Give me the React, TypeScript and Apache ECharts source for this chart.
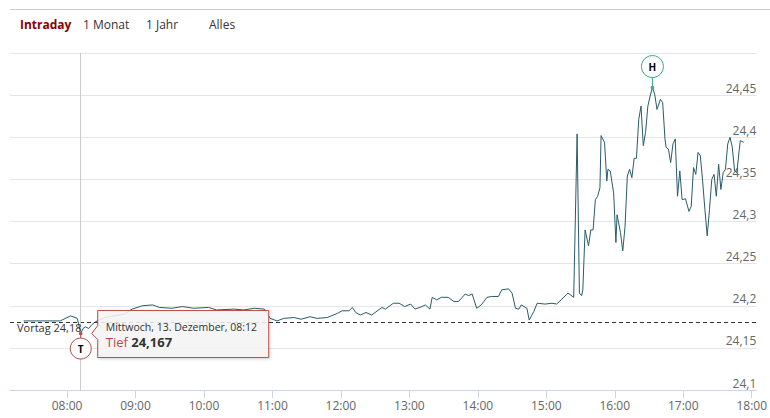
import React, { useEffect, useRef } from "react";
import * as echarts from "echarts";

// ---- data ----
const times0800 = ["07:22", "07:54", "08:03", "08:09", "08:12", "08:14", "08:16", "08:19", "08:22", "08:25", "08:33", "08:41", "08:50", "08:57"];
const prices0800 = [24.182, 24.182, 24.188, 24.185, 24.167, 24.173, 24.175, 24.173, 24.178, 24.181, 24.186, 24.188, 24.19, 24.196];
const times0900 = ["09:06", "09:15", "09:21", "09:32", "09:41", "09:51", "10:04", "10:11", "10:26", "10:35", "10:44", "10:53"];
const prices0900 = [24.2, 24.201, 24.198, 24.197, 24.199, 24.197, 24.198, 24.195, 24.196, 24.195, 24.197, 24.196];
const times1100 = ["10:58", "11:04", "11:10", "11:19", "11:25", "11:33", "11:39", "11:48", "11:57"];
const prices1100 = [24.185, 24.182, 24.185, 24.186, 24.184, 24.187, 24.185, 24.186, 24.191];
const times1200 = ["12:01", "12:07", "12:10", "12:13", "12:17", "12:22", "12:27", "12:36", "12:39", "12:46", "12:51", "12:56"];
const prices1200 = [24.194, 24.194, 24.198, 24.192, 24.189, 24.192, 24.189, 24.198, 24.196, 24.203, 24.203, 24.199];
const times1300 = ["13:01", "13:05", "13:11", "13:14", "13:18", "13:20", "13:24", "13:28", "13:34", "13:39", "13:43", "13:49", "13:52", "13:55", "13:59"];
const prices1300 = [24.202, 24.196, 24.199, 24.201, 24.196, 24.21, 24.207, 24.21, 24.21, 24.205, 24.205, 24.214, 24.212, 24.214, 24.197];
const times1400 = ["14:03", "14:08", "14:12", "14:18", "14:21", "14:27", "14:30", "14:33", "14:36", "14:38", "14:43", "14:45", "14:49", "14:52", "14:59"];
const prices1400 = [24.201, 24.21, 24.211, 24.211, 24.219, 24.22, 24.215, 24.197, 24.196, 24.201, 24.197, 24.183, 24.193, 24.203, 24.202];
const times1500 = ["15:05", "15:09", "15:13", "15:19", "15:24", "15:27", "15:29", "15:31", "15:32", "15:34", "15:37", "15:39", "15:41", "15:43", "15:45", "15:47", "15:48", "15:51", "15:53", "15:54", "15:56", "15:59"];
const prices1500 = [24.203, 24.202, 24.207, 24.215, 24.21, 24.404, 24.215, 24.212, 24.219, 24.29, 24.271, 24.29, 24.29, 24.326, 24.33, 24.34, 24.402, 24.394, 24.348, 24.362, 24.36, 24.334];
const times1600 = ["16:01", "16:02", "16:05", "16:07", "16:09", "16:11", "16:13", "16:15", "16:17", "16:19", "16:21", "16:23", "16:25", "16:27", "16:29", "16:31", "16:33", "16:35", "16:37", "16:40", "16:42", "16:44", "16:45", "16:47", "16:49", "16:51", "16:53", "16:55", "16:57", "16:59"];
const prices1600 = [24.275, 24.308, 24.287, 24.265, 24.294, 24.354, 24.362, 24.352, 24.375, 24.375, 24.421, 24.437, 24.39, 24.406, 24.437, 24.449, 24.459, 24.451, 24.433, 24.445, 24.441, 24.398, 24.388, 24.386, 24.37, 24.392, 24.398, 24.33, 24.36, 24.326];
const times1700 = ["17:02", "17:05", "17:07", "17:09", "17:11", "17:13", "17:15", "17:17", "17:19", "17:21", "17:23", "17:25", "17:27", "17:29", "17:31", "17:33", "17:35", "17:37", "17:39", "17:41", "17:43", "17:45", "17:47", "17:49", "17:50", "17:53"];
const prices1700 = [24.327, 24.312, 24.318, 24.364, 24.356, 24.382, 24.378, 24.348, 24.314, 24.283, 24.314, 24.35, 24.356, 24.33, 24.368, 24.338, 24.358, 24.362, 24.392, 24.4, 24.388, 24.36, 24.358, 24.384, 24.396, 24.394];

const times = [...times0800, ...times0900, ...times1100, ...times1200, ...times1300, ...times1400, ...times1500, ...times1600, ...times1700];
const prices = [...prices0800, ...prices0900, ...prices1100, ...prices1200, ...prices1300, ...prices1400, ...prices1500, ...prices1600, ...prices1700];

const xTickLabels = ["08:00", "09:00", "10:00", "11:00", "12:00", "13:00", "14:00", "15:00", "16:00", "17:00", "18:00"];
const xStart = "07:10";
const xEnd = "18:04";
const yMin = 24.1;
const yMax = 24.5;
const yStep = 0.05;

const previousClose = 24.181;
const previousCloseLabel = "Vortag 24,18";
const lowTime = "08:12";
const lowValue = 24.167;
const highTime = "16:33";
const highValue = 24.459;
const tooltipDate = "Mittwoch, 13. Dezember, 08:12";
const tooltipName = "Tief";
const rangeButtons = ["Intraday", "1 Monat", "1 Jahr", "Alles"];

// ---- layout / style ----
const buttonX = [20, 83, 146, 209];
const FONT = '"Open Sans", "DejaVu Sans", sans-serif';
const RED = "#b94a48";
const GREEN = "#3aa982";
const LINE = "#2a5b68";

const toMin = (s: string) => {
  const [h, m] = s.split(":").map(Number);
  return h * 60 + m;
};
const pad = (n: number) => (n < 10 ? "0" + n : "" + n);
const fmtTime = (v: number) => pad(Math.floor(v / 60)) + ":" + pad(Math.round(v % 60));
const fmtNum = (v: number) => String(+v.toFixed(3)).replace(".", ",");

export default function App() {
  const ref = useRef<HTMLDivElement>(null);

  useEffect(() => {
    if (!ref.current) return;
    const chart = echarts.init(ref.current, null, { renderer: "svg" });
    const data = times.map((t, i) => [toMin(t), prices[i]]);
    const tickValues = xTickLabels.map(toMin);

    chart.setOption({
      animation: false,
      textStyle: { fontFamily: FONT },
      grid: { left: 10, right: 11, top: 53, bottom: 28, containLabel: false },
      xAxis: {
        type: "value",
        min: toMin(xStart),
        max: toMin(xEnd),
        axisLine: { show: true, lineStyle: { color: "#ccd6eb", width: 1 } },
        axisTick: { show: true, length: 8, lineStyle: { color: "#ccd6eb" }, customValues: tickValues },
        axisLabel: { customValues: tickValues, formatter: (v: number) => fmtTime(v), color: "#666666", fontSize: 12, margin: 9, fontFamily: FONT },
        splitLine: { show: false },
      },
      yAxis: {
        type: "value",
        position: "right",
        min: yMin,
        max: yMax,
        interval: yStep,
        axisLine: { show: false },
        axisTick: { show: false },
        axisLabel: {
          inside: true,
          showMaxLabel: false,
          formatter: (v: number) => fmtNum(v),
          color: "#666666",
          fontSize: 12,
          fontFamily: FONT,
          verticalAlign: "bottom",
          margin: 0,
          padding: [0, 0, 1, 0],
        },
        splitLine: { lineStyle: { color: "#e6e6e6", width: 1 } },
      },
      series: [
        {
          type: "line",
          data,
          symbol: "none",
          showSymbol: false,
          lineStyle: { color: LINE, width: 1 },
          markLine: {
            silent: true,
            symbol: "none",
            animation: false,
            data: [
              { yAxis: previousClose, lineStyle: { type: [4, 3], color: "#333333", width: 1 }, label: { show: false } },
              { xAxis: toMin(lowTime), lineStyle: { type: "solid", color: "#cccccc", width: 1 }, label: { show: false } },
            ],
          },
        },
      ],
    });

    const lp = chart.convertToPixel({ seriesIndex: 0 }, [toMin(lowTime), lowValue]) as number[];
    const hp = chart.convertToPixel({ seriesIndex: 0 }, [toMin(highTime), highValue]) as number[];
    const pcY = chart.convertToPixel({ yAxisIndex: 0 }, previousClose) as number;

    const bx = lp[0] + 17;
    const by = lp[1] - 23;
    const bw = 171;
    const bh = 47;
    const lowCy = lp[1] + 15;
    const highCy = hp[1] - 21;

    const graphics: any[] = [
      { type: "line", z: 100, shape: { x1: 10, y1: 9.5, x2: 770, y2: 9.5 }, style: { stroke: "#cccccc", lineWidth: 1 } },
      ...rangeButtons.map((b, i) => ({
        type: "text",
        z: 100,
        x: buttonX[i],
        y: 24,
        style: {
          text: b,
          fontFamily: FONT,
          fontSize: 12,
          fontWeight: i === 0 ? "bold" : "normal",
          fill: i === 0 ? "#8b0000" : "#333333",
          verticalAlign: "middle",
        },
      })),
      {
        type: "text",
        z: 100,
        x: 17,
        y: pcY + 6,
        style: { text: previousCloseLabel, fontFamily: FONT, fontSize: 11, fill: "#333333", verticalAlign: "middle" },
      },
      // low marker
      { type: "line", z: 100, shape: { x1: lp[0], y1: lp[1], x2: lp[0], y2: lowCy - 10.5 }, style: { stroke: RED, lineWidth: 1 } },
      { type: "circle", z: 100, shape: { cx: lp[0], cy: lp[1], r: 1.8 }, style: { fill: RED } },
      { type: "circle", z: 100, shape: { cx: lp[0], cy: lowCy, r: 10.5 }, style: { fill: "#ffffff", stroke: RED, lineWidth: 1 } },
      { type: "text", z: 101, x: lp[0], y: lowCy, style: { text: "T", fontFamily: FONT, fontSize: 10, fontWeight: "bold", fill: "#000000", align: "center", verticalAlign: "middle" } },
      // high marker
      { type: "line", z: 100, shape: { x1: hp[0], y1: hp[1], x2: hp[0], y2: highCy + 11 }, style: { stroke: GREEN, lineWidth: 1 } },
      { type: "circle", z: 100, shape: { cx: hp[0], cy: hp[1], r: 1.8 }, style: { fill: GREEN } },
      { type: "circle", z: 100, shape: { cx: hp[0], cy: highCy, r: 11 }, style: { fill: "#ffffff", stroke: GREEN, lineWidth: 1 } },
      { type: "text", z: 101, x: hp[0], y: highCy, style: { text: "H", fontFamily: FONT, fontSize: 10, fontWeight: "bold", fill: "#000000", align: "center", verticalAlign: "middle" } },
      // tooltip
      {
        type: "polygon",
        z: 110,
        shape: {
          points: [
            [bx, by],
            [bx + bw, by],
            [bx + bw, by + bh],
            [bx, by + bh],
            [bx, lp[1] + 6],
            [lp[0] + 11, lp[1]],
            [bx, lp[1] - 8],
          ],
        },
        style: {
          fill: "rgba(247,247,247,0.85)",
          stroke: RED,
          lineWidth: 1,
          shadowBlur: 3,
          shadowColor: "rgba(0,0,0,0.18)",
          shadowOffsetX: 1,
          shadowOffsetY: 1,
        },
      },
      {
        type: "text",
        z: 111,
        x: bx + 8,
        y: by + 16.5,
        style: { text: tooltipDate, fontFamily: FONT, fontSize: 10.5, fill: "#333333", verticalAlign: "middle" },
      },
      {
        type: "text",
        z: 111,
        x: bx + 8,
        y: by + 31,
        style: {
          text: "{a|" + tooltipName + "} {b|" + fmtNum(lowValue) + "}",
          fontFamily: FONT,
          fontSize: 13,
          verticalAlign: "middle",
          rich: {
            a: { fill: RED, fontSize: 13, fontFamily: FONT },
            b: { fill: "#333333", fontSize: 13, fontWeight: "bold", fontFamily: FONT },
          },
        },
      },
    ];

    chart.setOption({ graphic: graphics });

    return () => chart.dispose();
  }, []);

  return <div ref={ref} style={{ position: "absolute", left: 0, top: 0, width: 770, height: 418 }} />;
}
